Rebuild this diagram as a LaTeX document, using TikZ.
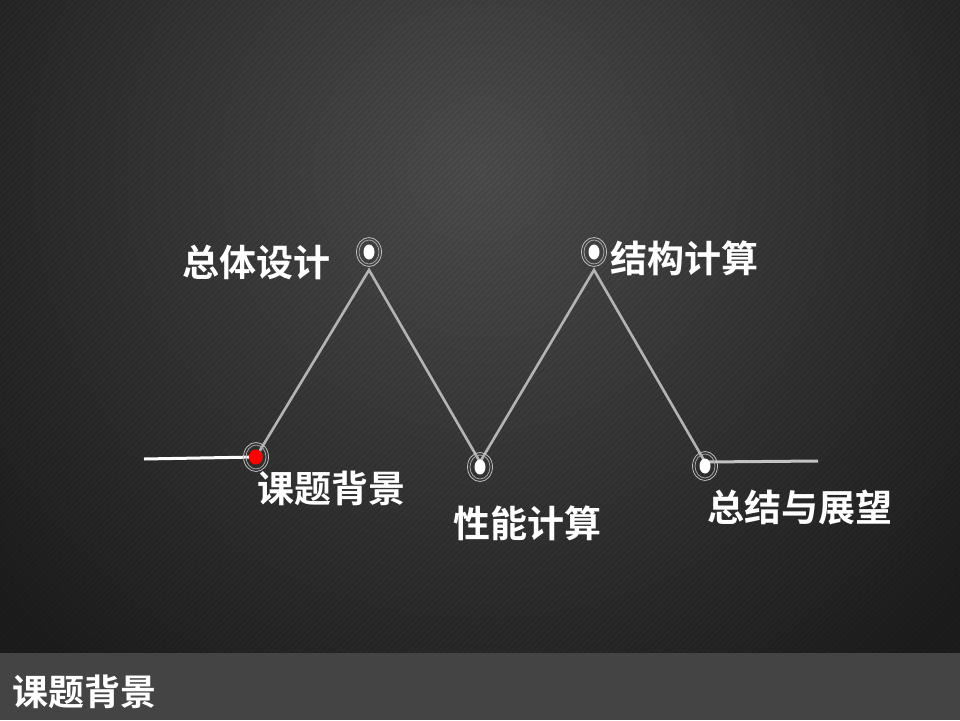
\documentclass[tikz,border=0pt]{standalone}
\usepackage{fontspec}
\newfontfamily\cjk{Noto Sans CJK SC}[BoldFont={Noto Sans CJK SC Bold}]
\definecolor{bgtop}{HTML}{4C4C4C}
\definecolor{bgedge}{HTML}{1C1C1C}
\definecolor{barcol}{HTML}{444444}
\definecolor{zig}{HTML}{B4B4B4}
\tikzset{
  lbl/.style={font=\cjk\bfseries\fontsize{37}{42}\selectfont, text=white, inner sep=0pt},
  zigline/.style={draw=zig, line width=2.6pt, line cap=round, line join=miter},
  ring/.style={draw=gray!70, line width=0.8pt}
}
\begin{document}
\begin{tikzpicture}[x=1pt,y=-1pt]
\useasboundingbox (0,0) rectangle (960,720);
% background
\begin{scope}
\clip (0,0) rectangle (960,653);
\fill[bgedge] (0,0) rectangle (960,653);
\shade[inner color=bgtop, outer color=bgedge] (480,170) circle (640);
\foreach \i in {-700,-694,...,960}{
  \draw[black, opacity=0.12, line width=0.8pt] (\i,653) -- (\i+653,0);
}
\end{scope}
% bottom bar
\fill[barcol] (0,653) rectangle (960,720);
\node[font=\cjk\bfseries\fontsize{36}{40}\selectfont, text=white, anchor=west, inner sep=0pt] (bar1) at (12,692) {课题背景};
% coordinates
\coordinate (s0) at (144,459);
\coordinate (p1) at (256,457);
\coordinate (p2) at (369,270);
\coordinate (p3) at (480,462);
\coordinate (p4) at (594,270);
\coordinate (p5) at (705,462);
\coordinate (e0) at (818,461);
% lines
\draw[zigline] (p1) -- (p2) -- (p3) -- (p4) -- (p5);
\draw[draw=zig!80, line width=3pt] (p5) -- (e0);
\draw[white, line width=3pt] (s0) -- (p1);
% dots
\foreach \n/\x/\y/\c/\a/\b in {d1/256/457/red/7/7.5, d2/369/252/white/5.5/7.5, d3/480/467/white/5.5/7.5, d4/594/252/white/5.5/7.5, d5/705/466/white/5.5/7.5}{
  \draw[ring] (\x,\y) ellipse (10pt and 12pt);
  \draw[ring, gray!50] (\x,\y) ellipse (12.5pt and 14.5pt);
  \fill[\c] (\x,\y) ellipse (\a pt and \b pt);
  \node[inner sep=0pt] (\n) at (\x,\y) {};
}
% labels
\foreach \n/\x/\y/\t in {l1/256/262/总体设计, l2/684/258/结构计算, l3/331/488/课题背景, l4/527/523/性能计算, l5/800/508/总结与展望}{
  \node[lbl] (\n) at (\x,\y) {\t};
}
\end{tikzpicture}
\end{document}
